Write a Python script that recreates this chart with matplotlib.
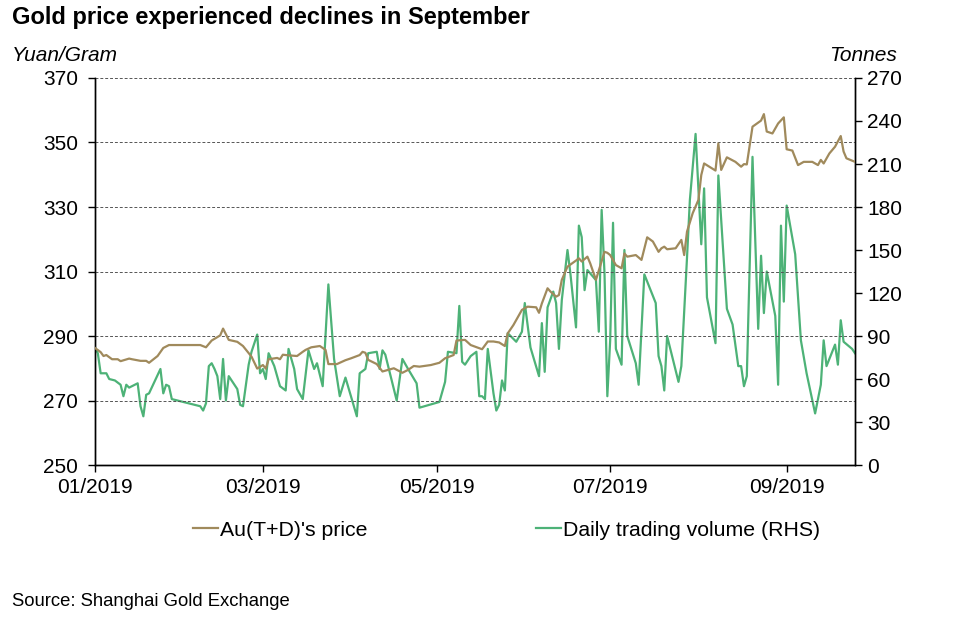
import pandas as pd
import matplotlib.pyplot as plt
import matplotlib.dates as mdates

plt.rcParams['font.family'] = ['Liberation Sans', 'DejaVu Sans']

# Au(T+D) price, yuan/gram (turning points)
price_dates = [
    "01-01", "01-03", "01-04", "01-05", "01-07", "01-09", "01-10", "01-13", "01-14", "01-17",
    "01-19", "01-20", "01-23", "01-25", "01-27", "02-07", "02-09", "02-11", "02-14", "02-15",
    "02-17", "02-20", "02-22", "02-25", "02-27", "03-01", "03-02", "03-03", "03-06", "03-07",
    "03-08", "03-10", "03-13", "03-15", "03-16", "03-18", "03-21", "03-23", "03-24", "03-27",
    "03-30", "04-01", "04-04", "04-05", "04-06", "04-07", "04-10", "04-12", "04-14", "04-16",
    "04-19", "04-21", "04-23", "04-25", "04-29", "05-02", "05-04", "05-07", "05-08", "05-11",
    "05-13", "05-17", "05-19", "05-21", "05-23", "05-25", "05-26", "05-28", "05-31", "06-02",
    "06-05", "06-06", "06-07", "06-09", "06-10", "06-12", "06-13", "06-14", "06-16", "06-19",
    "06-20", "06-21", "06-23", "06-24", "06-26", "06-29", "06-30", "07-01", "07-03", "07-05",
    "07-06", "07-07", "07-10", "07-12", "07-14", "07-16", "07-18", "07-19", "07-20", "07-21",
    "07-24", "07-26", "07-27", "07-28", "07-30", "08-01", "08-02", "08-03", "08-07", "08-08",
    "08-09", "08-11", "08-14", "08-16", "08-17", "08-18", "08-20", "08-23", "08-24", "08-25",
    "08-27", "08-29", "08-31", "09-01", "09-03", "09-05", "09-07", "09-10", "09-12", "09-13",
    "09-14", "09-16", "09-18", "09-20", "09-21", "09-22", "09-25",
]
price = [
    286.3, 285.0, 283.8, 284.1, 282.8, 282.8, 282.2, 283.0, 282.8, 282.3,
    282.3, 281.7, 283.8, 286.3, 287.2, 287.2, 286.5, 288.6, 290.2, 292.3,
    288.8, 288.2, 286.9, 283.6, 279.9, 281.0, 279.9, 282.8, 283.2, 282.8,
    284.2, 284.0, 283.8, 285.1, 285.7, 286.5, 286.9, 285.7, 281.3, 281.3,
    282.5, 283.1, 284.1, 285.1, 284.8, 282.6, 281.3, 279.0, 279.5, 280.0,
    278.6, 279.5, 280.7, 280.5, 281.0, 281.7, 283.1, 284.1, 288.6, 288.8,
    287.2, 285.9, 288.3, 288.3, 288.0, 286.9, 290.8, 293.4, 298.1, 299.1,
    298.9, 297.2, 300.1, 304.8, 303.8, 302.2, 302.7, 307.4, 311.5, 313.4,
    314.1, 313.1, 314.6, 312.5, 307.4, 316.1, 315.8, 315.1, 312.0, 311.0,
    315.6, 314.6, 315.1, 313.6, 320.6, 319.3, 316.1, 317.2, 317.7, 316.9,
    317.2, 319.8, 315.1, 322.4, 328.1, 332.2, 339.9, 343.5, 341.3, 349.7,
    341.5, 345.4, 344.0, 342.5, 343.3, 343.2, 354.9, 356.8, 358.8, 353.4,
    352.8, 355.9, 357.8, 347.9, 347.5, 343.0, 344.0, 344.0, 343.0, 344.6,
    343.5, 346.6, 348.7, 352.0, 347.2, 345.1, 344.0,
]

# daily trading volume, tonnes
volume_dates = [
    "01-01", "01-02", "01-03", "01-05", "01-06", "01-08", "01-10", "01-11", "01-12", "01-13",
    "01-16", "01-17", "01-18", "01-19", "01-20", "01-24", "01-25", "01-26", "01-27", "01-28",
    "02-07", "02-08", "02-09", "02-10", "02-11", "02-12", "02-13", "02-14", "02-15", "02-16",
    "02-17", "02-20", "02-21", "02-22", "02-24", "02-25", "02-27", "02-28", "03-01", "03-02",
    "03-03", "03-05", "03-07", "03-09", "03-10", "03-12", "03-13", "03-15", "03-17", "03-19",
    "03-20", "03-22", "03-24", "03-26", "03-28", "03-30", "04-03", "04-04", "04-06", "04-07",
    "04-10", "04-11", "04-12", "04-13", "04-17", "04-19", "04-21", "04-24", "04-25", "05-02",
    "05-04", "05-05", "05-08", "05-09", "05-10", "05-11", "05-13", "05-15", "05-16", "05-17",
    "05-18", "05-19", "05-21", "05-22", "05-23", "05-24", "05-25", "05-26", "05-29", "05-31",
    "06-01", "06-03", "06-06", "06-07", "06-08", "06-09", "06-11", "06-12", "06-13", "06-14",
    "06-16", "06-17", "06-19", "06-20", "06-21", "06-22", "06-23", "06-26", "06-27", "06-28",
    "06-29", "06-30", "07-01", "07-02", "07-03", "07-05", "07-06", "07-07", "07-10", "07-11",
    "07-13", "07-17", "07-18", "07-19", "07-20", "07-21", "07-25", "07-26", "07-28", "07-29",
    "07-31", "08-02", "08-03", "08-04", "08-07", "08-08", "08-11", "08-13", "08-15", "08-16",
    "08-17", "08-18", "08-20", "08-22", "08-23", "08-24", "08-25", "08-28", "08-29", "08-30",
    "08-31", "09-01", "09-04", "09-06", "09-08", "09-11", "09-13", "09-14", "09-15", "09-18",
    "09-19", "09-20", "09-21", "09-24", "09-25",
]
volume = [
    82, 78, 64, 64, 60, 59, 56, 48, 56, 54,
    57, 41, 34, 49, 50, 67, 50, 56, 55, 46,
    41, 38, 43, 69, 71, 67, 62, 46, 74, 45,
    62, 53, 42, 41, 70, 79, 91, 64, 67, 60,
    78, 69, 55, 52, 81, 67, 53, 46, 80, 67,
    71, 55, 126, 74, 48, 61, 34, 64, 67, 78,
    79, 67, 80, 77, 45, 74, 67, 57, 40, 44,
    58, 79, 78, 111, 72, 70, 76, 79, 48, 48,
    46, 81, 50, 38, 42, 59, 52, 92, 86, 93,
    113, 82, 62, 99, 65, 110, 121, 113, 81, 115,
    150, 134, 96, 167, 159, 122, 136, 129, 93, 178,
    134, 48, 87, 169, 81, 70, 150, 90, 71, 56,
    133, 113, 76, 69, 52, 90, 58, 69, 145, 185,
    231, 154, 193, 117, 85, 202, 109, 98, 69, 69,
    55, 62, 215, 95, 146, 106, 135, 104, 56, 167,
    114, 181, 147, 87, 64, 36, 56, 87, 69, 84,
    70, 101, 86, 81, 78,
]

x_ticks = ["2019-01-01", "2019-03-01", "2019-05-01", "2019-07-01", "2019-09-01"]

price_x = pd.to_datetime(["2019-" + d for d in price_dates])
volume_x = pd.to_datetime(["2019-" + d for d in volume_dates])

brown = "#A08A5C"
green = "#4DB277"

fig = plt.figure(figsize=(9.75, 6.29), dpi=100)
ax = fig.add_axes([0.0974, 0.2607, 0.7795, 0.6153])
ax2 = ax.twinx()

l1, = ax.plot(price_x, price, color=brown, lw=1.6, label="Au(T+D)'s price", zorder=3)
l2, = ax2.plot(volume_x, volume, color=green, lw=1.6, label="Daily trading volume (RHS)")
ax.set_zorder(ax2.get_zorder() + 1)
ax.patch.set_visible(False)

ax.set_xlim(pd.Timestamp("2019-01-01"), pd.Timestamp("2019-09-25"))
ax.set_ylim(250, 370)
ax.set_yticks(range(250, 371, 20))
ax2.set_ylim(0, 270)
ax2.set_yticks(range(0, 271, 30))

ax.set_xticks(pd.to_datetime(x_ticks))
ax.xaxis.set_major_formatter(mdates.DateFormatter("%m/%Y"))

for g in range(270, 371, 20):
    ax.axhline(g, color="#555555", lw=0.7, ls=(0, (3, 2)), zorder=1)

for a in (ax, ax2):
    a.spines["top"].set_visible(False)
    a.tick_params(labelsize=15, length=5, width=1, color="black", direction="out")
    for s in a.spines.values():
        s.set_linewidth(1)
ax.tick_params(axis="y", pad=7)
ax2.tick_params(axis="y", pad=4)
ax.tick_params(axis="x", pad=4)

fig.text(0.012, 0.972, "Gold price experienced declines in September",
         fontsize=17, fontweight="bold", va="center")
fig.text(0.012, 0.912, "Yuan/Gram", fontsize=15, style="italic", va="center")
fig.text(0.92, 0.912, "Tonnes", fontsize=15, style="italic", va="center", ha="right")
fig.text(0.012, 0.044, "Source: Shanghai Gold Exchange", fontsize=13.3, va="center")

fig.legend(handles=[l1, l2], loc="center", bbox_to_anchor=(0.5195, 0.157), ncol=2,
           frameon=False, fontsize=15.3, handlelength=1.2, handletextpad=0.1,
           columnspacing=7.9)

fig.savefig("out.png", dpi=100)
